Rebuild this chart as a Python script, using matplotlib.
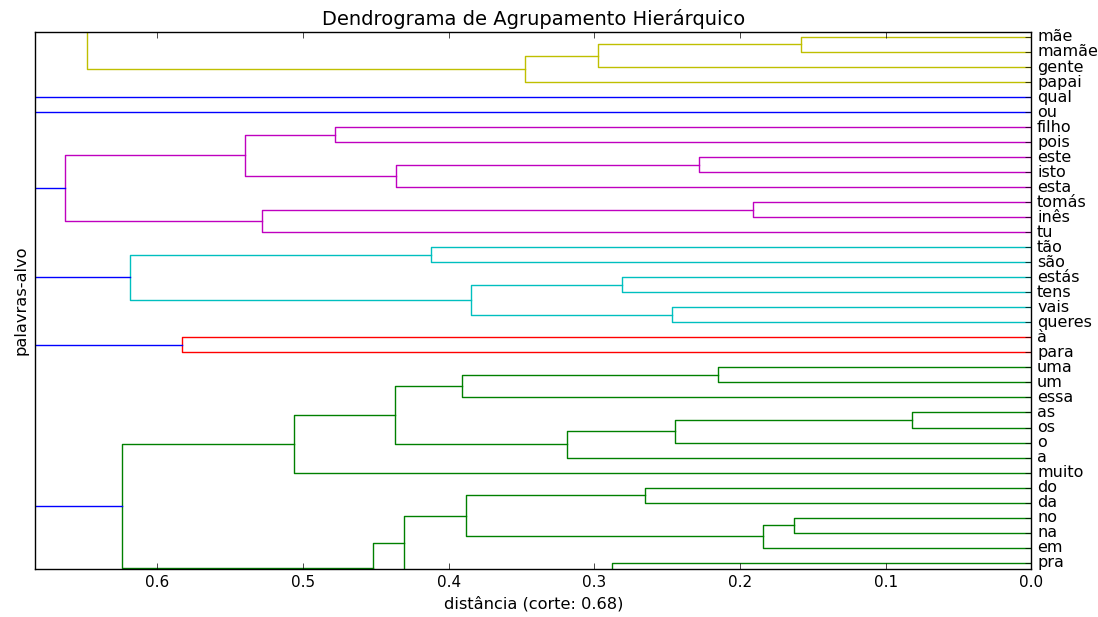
import matplotlib
matplotlib.use('Agg')
import matplotlib.pyplot as plt

plt.style.use('classic')

# folhas de baixo para cima ('' = folhas que ficam fora da janela visível)
folhas = ['', '', 'pra', 'em', 'na', 'no', 'da', 'do', 'muito', 'a', 'o', 'os', 'as',
          'essa', 'um', 'uma', 'para', 'à', 'queres', 'vais', 'tens', 'estás', 'são',
          'tão', 'tu', 'inês', 'tomás', 'esta', 'isto', 'este', 'pois', 'filho', 'ou',
          'qual', 'papai', 'gente', 'mamãe', 'mãe', '', '', '', '', '']

# ligações (estilo linkage): nó novo = len(folhas) + k
ramo_a = [4, 3, 6, 45, 1, 47, 0, 11, 10, 9, 14, 13, 52, 8, 49,
          16,
          18, 20, 59, 22, 61,
          25, 24, 28, 27, 30, 67, 65,
          36, 35, 34, 38, 74, 75, 76, 73,
          57, 63, 79, 33, 81, 83]
ramo_b = [5, 43, 7, 44, 2, 46, 48, 12, 50, 51, 15, 53, 54, 55, 56,
          17,
          19, 21, 60, 23, 62,
          26, 64, 29, 66, 31, 68, 69,
          37, 71, 72, 39, 40, 41, 42, 77,
          58, 70, 80, 78, 32, 82]
alturas = [0.163, 0.184, 0.265, 0.388, 0.288, 0.431, 0.452, 0.082, 0.245, 0.319,
           0.215, 0.391, 0.437, 0.506, 0.624,
           0.583,
           0.247, 0.281, 0.385, 0.412, 0.6185,
           0.191, 0.528, 0.2285, 0.4365, 0.478, 0.540, 0.6636,
           0.1585, 0.2976, 0.348, 0.21, 0.33, 0.41, 0.52, 0.648,
           0.70, 0.71, 0.74, 0.77, 0.79, 0.83]

corte = 0.68

n = len(folhas)
pos = {i: 5 + 10 * i for i in range(n)}
alt = {i: 0.0 for i in range(n)}
filhos = {}
for k, (a, b, h) in enumerate(zip(ramo_a, ramo_b, alturas)):
    nid = n + k
    filhos[nid] = (a, b)
    pos[nid] = (pos[a] + pos[b]) / 2.0
    alt[nid] = h
raiz = n + len(alturas) - 1

# cores como no dendrograma do scipy
ciclo = ['g', 'r', 'c', 'm', 'y', 'k']
cor = {}
cont = [0]


def pintar(nid, c=None):
    if nid < n:
        return
    if c is None and alt[nid] <= corte:
        c = ciclo[cont[0] % len(ciclo)]
        cont[0] += 1
    cor[nid] = c if c is not None else 'b'
    for f in sorted(filhos[nid], key=lambda f: pos[f]):
        pintar(f, c)


pintar(raiz)

fig = plt.figure(figsize=(10.98, 6.17), dpi=100, facecolor='white')
ax = fig.add_axes([0.0319, 0.0778, 0.9075, 0.8703])

for nid, (a, b) in filhos.items():
    ax.plot([alt[a], alt[nid], alt[nid], alt[b]],
            [pos[a], pos[a], pos[b], pos[b]],
            color=cor[nid], lw=1.0)

ax.set_yticks([pos[i] for i in range(n)])
ax.set_yticklabels(folhas, fontsize=11.5)
ax.yaxis.set_ticks_position('right')
ax.tick_params(axis='x', labelsize=11)

ax.set_xlim(0.684, 0.0)
ax.set_ylim(pos[2] - 4.2, pos[37] + 3.3)

ax.set_title('Dendrograma de Agrupamento Hierárquico', fontsize=14)
ax.set_xlabel('distância (corte: 0.68)', fontsize=11.7)
ax.set_ylabel('palavras-alvo', fontsize=11.7)

fig.savefig('out.png', dpi=100, facecolor='white')
